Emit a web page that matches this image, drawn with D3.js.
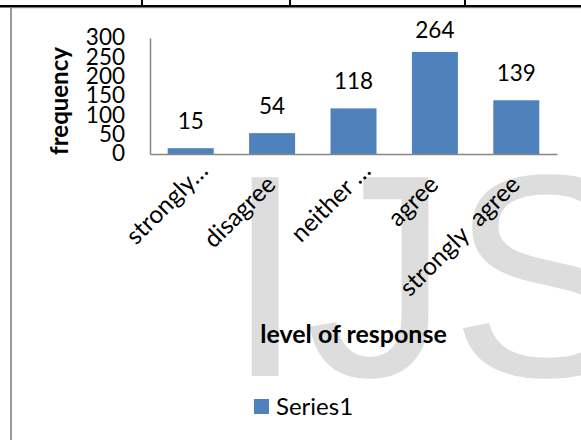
<!DOCTYPE html>
<html>
<head>
<meta charset="utf-8">
<script src="https://cdn.jsdelivr.net/npm/d3@7/dist/d3.min.js"></script>
<style>
	html, body { margin: 0; padding: 0; background: #fff; }
	svg { display: block; }
	text { font-family: Lato, "Noto Sans", sans-serif; fill: #000; }
</style>
</head>
<body>
<div id="chart"></div>
<script>
var categories = ['strongly disagree', 'disagree', 'neither agree nor disagree', 'agree', 'strongly agree'];
var tickLabels = ['strongly\u2026', 'disagree', 'neither \u2026', 'agree', 'strongly  agree'];
var series1 = [15, 54, 118, 264, 139];
var yTicks = [0, 50, 100, 150, 200, 250, 300];
var seriesName = 'Series1';

var width = 581;
var height = 440;
var plotLeft = 150, plotRight = 557, plotTop = 38, plotBottom = 154;
var barColor = '#4F81BD';
var axisColor = '#868686';

var svg = d3.select('#chart').append('svg').attr('width', width).attr('height', height);

// Page furniture behind the chart: table rule and watermark
svg.append('text').attr('x', 225).attr('y', 376)
	.style('font-family', '"Liberation Sans", Arial, sans-serif')
	.style('font-size', '289px')
	.style('fill', '#dddddd')
	.text('IJSER');

svg.append('line').attr('x1', 0).attr('x2', width).attr('y1', 6.3).attr('y2', 6.3)
	.style('stroke', '#000').style('stroke-width', 2.5);
[142, 290, 465].forEach(function(x){
	svg.append('line').attr('x1', x).attr('x2', x).attr('y1', 0).attr('y2', 6)
		.style('stroke', '#000').style('stroke-width', 2);
});
svg.append('line').attr('x1', 11).attr('x2', 11).attr('y1', 8).attr('y2', height)
	.style('stroke', '#9a9a9a').style('stroke-width', 2);
svg.append('line').attr('x1', 12).attr('x2', width).attr('y1', 8.5).attr('y2', 8.5)
	.style('stroke', '#e6e6e6').style('stroke-width', 1);

var x = d3.scaleBand().domain(categories).range([plotLeft, plotRight])
	.paddingInner(0.435).paddingOuter(0.2175);
var y = d3.scaleLinear().domain([0, 300]).range([plotBottom, plotTop]);

// Bars
svg.append('g').selectAll('rect').data(series1).enter().append('rect')
	.attr('x', function(d, i){ return x(categories[i]); })
	.attr('y', function(d){ return y(d); })
	.attr('width', x.bandwidth())
	.attr('height', function(d){ return plotBottom - y(d); })
	.style('fill', barColor);

// Value labels (the tallest one gets pushed down by the chart top)
svg.append('g').selectAll('text').data(series1).enter().append('text')
	.attr('x', function(d, i){ return x(categories[i]) + x.bandwidth() / 2; })
	.attr('y', function(d){ return Math.max(y(d) - 19, 38); })
	.attr('text-anchor', 'middle')
	.style('font-size', '22.5px')
	.text(function(d){ return d; });

// Y axis
var yAxis = svg.append('g').attr('transform', 'translate(' + plotLeft + ',0)')
	.call(d3.axisLeft(y).tickValues(yTicks).tickSize(0).tickPadding(25));
yAxis.attr('font-family', null).attr('font-size', null);
yAxis.select('.domain').style('stroke', axisColor).style('stroke-width', 1.5);
yAxis.selectAll('text').style('font-size', '22.5px').attr('dy', '0.3em');

// X axis, labels turned 45 degrees
var xAxis = svg.append('g').attr('transform', 'translate(0,' + plotBottom + ')')
	.call(d3.axisBottom(x).tickSize(0).tickFormat(function(d, i){ return tickLabels[i]; }));
xAxis.attr('font-family', null).attr('font-size', null);
xAxis.select('.domain').style('stroke', axisColor).style('stroke-width', 1.5);
xAxis.selectAll('text')
	.attr('y', null).attr('dy', null)
	.attr('dx', function(d, i){ return tickLabels[i].slice(-1) === '\u2026' ? '0.8em' : 0; })
	.attr('text-anchor', 'end')
	.attr('transform', 'translate(5,32) rotate(-45)')
	.style('white-space', 'pre')
	.style('font-size', '24.5px');

// Axis titles
svg.append('text').attr('transform', 'translate(68,101) rotate(-90)')
	.attr('text-anchor', 'middle')
	.style('font-size', '24px').style('font-weight', 'bold')
	.text('frequency');
svg.append('text').attr('x', (plotLeft + plotRight) / 2).attr('y', 343)
	.attr('text-anchor', 'middle')
	.style('font-size', '25px').style('font-weight', 'bold')
	.text('level of response');

// Legend
var legend = svg.append('g').attr('transform', 'translate(254,399)');
legend.append('rect').attr('width', 15).attr('height', 15).style('fill', barColor);
legend.append('text').attr('x', 22).attr('y', 16).style('font-size', '24px').text(seriesName);
</script>
</body>
</html>
